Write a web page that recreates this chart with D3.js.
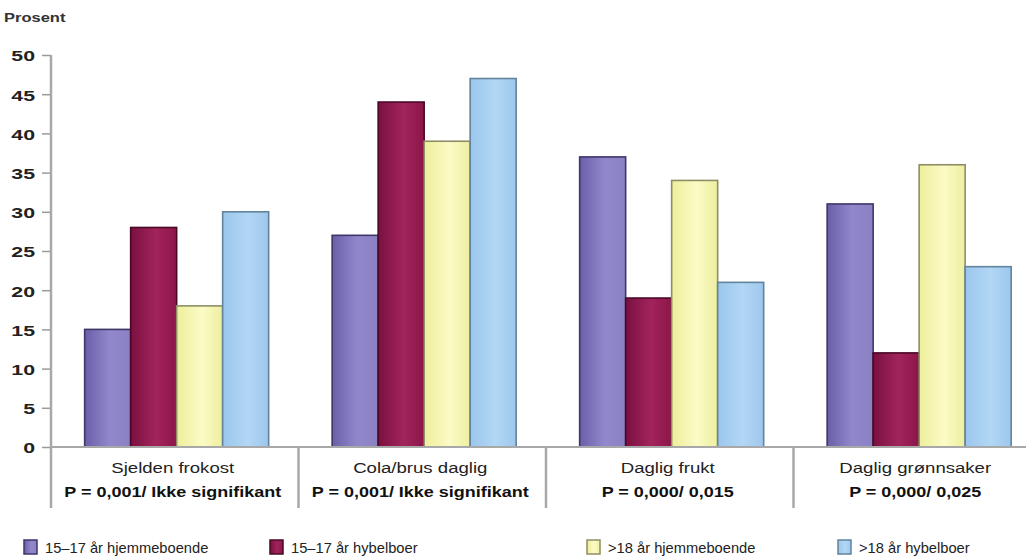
<!DOCTYPE html>
<html>
<head>
<meta charset="utf-8">
<script src="https://cdn.jsdelivr.net/npm/d3@7"></script>
<style>
  html, body { margin: 0; padding: 0; background: #fff; }
  svg { display: block; font-family: "Liberation Sans", Arial, sans-serif; }
</style>
</head>
<body>
<svg id="chart" width="1026" height="559"></svg>
<script>
// Categories (two-line labels) and groups
const categories = ["Sjelden frokost", "Cola/brus daglig", "Daglig frukt", "Daglig grønnsaker"];
const pValues = ["P = 0,001/ Ikke signifikant", "P = 0,001/ Ikke signifikant", "P = 0,000/ 0,015", "P = 0,000/ 0,025"];
const seriesNames = ["15–17 år hjemmeboende", "15–17 år hybelboer", ">18 år hjemmeboende", ">18 år hybelboer"];

// Percent per category, one array per group
const hjemme1517 = [15, 27, 37, 31];
const hybel1517  = [28, 44, 19, 12];
const hjemme18   = [18, 39, 34, 36];
const hybel18    = [30, 47, 21, 23];
const seriesValues = [hjemme1517, hybel1517, hjemme18, hybel18];

const yTicks = [0, 5, 10, 15, 20, 25, 30, 35, 40, 45, 50];

// Fill gradients (left, middle, right) and outlines per group
const fills = [
  ["#6a5fa8", "#9188cc", "#8a80c2"],
  ["#7a1040", "#a2245c", "#8c1549"],
  ["#eeee9c", "#fbfbc6", "#eeeea0"],
  ["#9bc6ec", "#b2d7f5", "#9dc7ec"]
];
const outlines = ["#3f3668", "#4a0826", "#8e8e66", "#62849c"];

const svg = d3.select("#chart");
const margin = { left: 51, top: 55, bottom: 447 };
const bandStep = 247.5;

const y = d3.scaleLinear().domain([0, 50]).range([margin.bottom, margin.top]);
const x0 = d3.scaleBand().domain(categories)
  .range([margin.left, margin.left + bandStep * categories.length]).padding(0);
const x1 = d3.scaleBand().domain(d3.range(seriesNames.length))
  .range([0, x0.bandwidth()]).paddingInner(0).paddingOuter(0.69).align(0.53);

// Text in this chart is set in a horizontally widened face
function wideText(parent, px, py, sx, anchor) {
  return parent.append("text")
    .attr("transform", `translate(${px},${py}) scale(${sx},1)`)
    .attr("text-anchor", anchor || "start");
}

// Gradients
const defs = svg.append("defs");
fills.forEach((c, i) => {
  const g = defs.append("linearGradient").attr("id", "g" + i)
    .attr("x1", "0%").attr("x2", "100%").attr("y1", "0%").attr("y2", "0%");
  g.append("stop").attr("offset", "0%").attr("stop-color", c[0]);
  g.append("stop").attr("offset", "55%").attr("stop-color", c[1]);
  g.append("stop").attr("offset", "100%").attr("stop-color", c[2]);
});

// Y axis title
wideText(svg, 4, 22, 1.27)
  .attr("font-size", 13).attr("font-weight", "bold").attr("fill", "#333")
  .text("Prosent");

// Bars
const groups = svg.append("g").selectAll("g")
  .data(categories).join("g")
  .attr("transform", d => `translate(${x0(d)},0)`);

groups.selectAll("rect")
  .data((d, ci) => seriesValues.map((vals, si) => ({ si, v: vals[ci] })))
  .join("rect")
  .attr("x", d => x1(d.si))
  .attr("y", d => y(d.v))
  .attr("width", x1.bandwidth())
  .attr("height", d => y(0) - y(d.v))
  .attr("fill", d => `url(#g${d.si})`)
  .attr("stroke", d => outlines[d.si])
  .attr("stroke-width", 1.6);

// Y axis
const yAxis = d3.axisLeft(y).tickValues(yTicks).tickSize(9).tickPadding(7);
const ya = svg.append("g").attr("transform", `translate(${margin.left},0)`).call(yAxis);
ya.select(".domain").remove();
ya.selectAll(".tick line").attr("stroke", "#9a9a9a").attr("stroke-width", 1.5);
ya.selectAll(".tick text")
  .attr("x", 0)
  .attr("transform", "translate(-16,1) scale(1.42,1)")
  .attr("font-size", 15).attr("fill", "#222")
  .attr("font-family", "'Liberation Sans', Arial, sans-serif").attr("font-weight", "bold");

const axisColor = "#a8a8a8";
// Vertical axis line extending below the baseline
svg.append("line").attr("x1", margin.left).attr("x2", margin.left)
  .attr("y1", y(50)).attr("y2", 508).attr("stroke", axisColor).attr("stroke-width", 2.5);
// Baseline
svg.append("line").attr("x1", margin.left).attr("x2", 1026)
  .attr("y1", y(0)).attr("y2", y(0)).attr("stroke", axisColor).attr("stroke-width", 2);
// Category dividers
categories.slice(1).forEach(c => {
  svg.append("line").attr("x1", x0(c)).attr("x2", x0(c))
    .attr("y1", y(0)).attr("y2", 508).attr("stroke", axisColor).attr("stroke-width", 2.5);
});

// Category labels
const lab = svg.append("g");
categories.forEach((c, i) => {
  const cx = x0(c) + x0.bandwidth() / 2 - 2;
  wideText(lab, cx, 473, 1.24, "middle")
    .attr("font-size", 15).attr("fill", "#222").text(c);
  wideText(lab, cx, 497, 1.2, "middle")
    .attr("font-size", 15).attr("fill", "#111").attr("font-weight", "bold").text(pValues[i]);
});

// Legend
const legendX = [24, 270, 587, 838];
const leg = svg.append("g");
seriesNames.forEach((s, i) => {
  leg.append("rect").attr("x", legendX[i]).attr("y", 540).attr("width", 13).attr("height", 14)
    .attr("fill", `url(#g${i})`).attr("stroke", outlines[i]).attr("stroke-width", 1.5);
  wideText(leg, legendX[i] + 21, 553, 1.05)
    .attr("font-size", 14).attr("fill", "#222").text(s);
});
</script>
</body>
</html>
